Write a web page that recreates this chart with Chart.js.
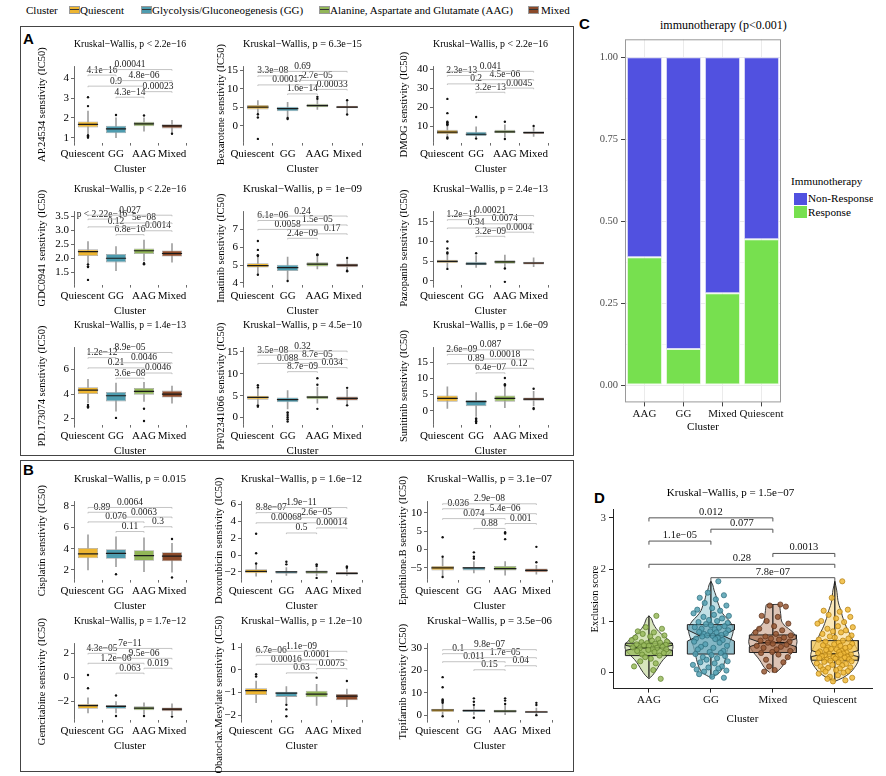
<!DOCTYPE html>
<html>
<head>
<meta charset="utf-8">
<script src="https://cdn.jsdelivr.net/npm/chart.js@4.4.0/dist/chart.umd.min.js"></script>
<style>
  body { margin: 0; width: 886px; height: 776px; overflow: hidden; background: #fff; position: relative;
         font-family: 'Liberation Serif', 'Times New Roman', serif; color: #000; }
  canvas { position: absolute; }
  .frame { position: absolute; border: 1px solid #444; }
  .letter { position: absolute; font-family: 'Liberation Sans', Arial, sans-serif; font-weight: bold; font-size: 15px; line-height: 15px; }
  .txt { position: absolute; white-space: nowrap; font-size: 11px; line-height: 12px; }
  .key { position: absolute; width: 9px; height: 6px; border: 1px solid #999; }
  .key::after { content: ''; position: absolute; left: 0; right: 0; top: 2px; height: 1px; background: #333; }
  .sq { position: absolute; width: 13px; height: 12px; }
  #cLegend { position: absolute; left: 780px; top: 170px; width: 93px; height: 60px; overflow: hidden; }
</style>
</head>
<body>

<!-- cluster legend on top -->
<div class="txt" style="left:26px;top:4px">Cluster</div>
<div class="key" style="left:69px;top:6px;background:#EDB531"></div>
<div class="txt" style="left:80px;top:4px">Quiescent</div>
<div class="key" style="left:141px;top:6px;background:#4E9CAF"></div>
<div class="txt" style="left:152px;top:4px">Glycolysis/Gluconeogenesis (GG)</div>
<div class="key" style="left:319px;top:6px;background:#92B658"></div>
<div class="txt" style="left:330px;top:4px">Alanine, Aspartate and Glutamate (AAG)</div>
<div class="key" style="left:528px;top:6px;background:#8B4A2A"></div>
<div class="txt" style="left:541px;top:4px">Mixed</div>

<div class="frame" style="left:20px;top:26px;width:552px;height:428px"></div>
<div class="frame" style="left:20px;top:460px;width:552px;height:310px"></div>
<div class="letter" style="left:23px;top:31px">A</div>
<div class="letter" style="left:23px;top:462px">B</div>
<div class="letter" style="left:579px;top:16px">C</div>
<div class="letter" style="left:594px;top:490px">D</div>

<!-- panel C title and legend -->
<div class="txt" style="left:660px;top:18px;font-size:12px;line-height:14px">immunotherapy (p&lt;0.001)</div>
<div id="cLegend">
  <div class="txt" style="left:11px;top:4px;font-size:11.2px;line-height:14px">Immunotherapy</div>
  <div class="sq" style="left:14px;top:23px;background:#5151E0"></div>
  <div class="txt" style="left:28px;top:21px;font-size:11.2px;line-height:14px">Non-Response</div>
  <div class="sq" style="left:14px;top:36px;background:#77E04F"></div>
  <div class="txt" style="left:28px;top:35px;font-size:11.2px;line-height:14px">Response</div>
</div>

<script>
// ---------------- data ----------------
var clusters = ['Quiescent', 'GG', 'AAG', 'Mixed'];
// tick text; the long first label is nudged left as in the original
var clusterTickText = ['Quiescent    ', 'GG', 'AAG', 'Mixed'];
var clusterFill = ['#EDB531', '#4E9CAF', '#92B658', '#8B4A2A'];
// pairwise comparisons, from the lowest bracket to the highest
var pairs = [[1, 2], [2, 3], [0, 2], [1, 3], [0, 1], [0, 3]];

// box stats per cluster: [low whisker, q1, median, q3, high whisker]
var ap24534Box = [[1.2, 1.52, 1.67, 1.82, 2.35], [1.0, 1.22, 1.45, 1.6, 2.0], [1.33, 1.58, 1.7, 1.8, 2.0], [1.22, 1.47, 1.6, 1.68, 1.88]];
var ap24534Out = [[3.05, 2.6, 1.12, 1.06, 1.0], [2.15], [2.12], [1.2]];
var ap24534P = ['4.3e−14', '0.00023', '0.9', '4.8e−06', '4.1e−16', '0.00041'];
var ap24534Ticks = [1, 2, 3, 4];

var bexaroteneBox = [[2.8, 4.4, 5.0, 5.6, 6.8], [2.3, 3.9, 4.6, 5.1, 6.3], [4.4, 5.0, 5.4, 5.9, 7.0], [3.3, 4.7, 5.0, 5.4, 6.6]];
var bexaroteneOut = [[2.2, 3.1, -3.6], [1.8, 2.1], [7.3, 7.8], [6.9, 3.0]];
var bexaroteneP = ['1.6e−14', '0.00033', '0.00017', '2.7e−05', '3.3e−08', '0.69'];
var bexaroteneTicks = [0, 5, 10, 15];

var dmogBox = [[4.6, 6.0, 7.0, 8.2, 11.5], [4.0, 5.0, 5.9, 7.2, 9.8], [4.4, 6.4, 7.2, 8.2, 10.8], [4.8, 6.0, 6.7, 7.5, 9.5]];
var dmogOut = [[24.5, 17, 12.5, 12, 11.9, 11.2, 10.8, 3.6, 4.2], [15, 3.6], [12.5, 3.4], [10.3]];
var dmogP = ['3.2e−13', '0.0045', '0.2', '4.5e−06', '2.3e−13', '0.041'];
var dmogTicks = [10, 20, 30, 40];

var gdc0941Box = [[1.82, 2.08, 2.24, 2.32, 2.6], [1.55, 1.85, 2.0, 2.15, 2.42], [1.9, 2.15, 2.27, 2.35, 2.65], [1.86, 2.06, 2.17, 2.28, 2.53]];
var gdc0941Out = [[1.78, 1.7, 1.68, 1.22], [], [1.82, 1.78], []];
var gdc0941P = ['6.8e−16', '0.0014', '0.12', '5e−08', 'p < 2.22e−16', '0.027'];
var gdc0941Ticks = [1.5, 2.0, 2.5, 3.0, 3.5];

var imatinibBox = [[4.5, 4.86, 4.97, 5.1, 5.5], [4.15, 4.66, 4.85, 5.02, 5.45], [4.78, 4.92, 5.05, 5.15, 5.45], [4.72, 4.88, 4.99, 5.08, 5.35]];
var imatinibOut = [[6.35, 5.85, 5.55, 5.5, 4.45], [4.1], [5.55, 5.6], [5.4, 4.65, 4.68]];
var imatinibP = ['2.4e−09', '0.17', '0.0058', '1.5e−05', '6.1e−06', '0.24'];
var imatinibTicks = [4, 5, 6, 7];

var pazopanibBox = [[3.3, 4.5, 4.9, 5.3, 6.6], [3.4, 3.9, 4.3, 4.8, 6.4], [3.3, 4.3, 4.8, 5.2, 6.5], [3.6, 4.1, 4.5, 4.8, 5.8]];
var pazopanibOut = [[10, 8.2, 7.2, 6.9, 3.0], [7.0], [3.1, -0.3], []];
var pazopanibP = ['3.2e−09', '0.0004', '0.94', '0.0074', '1.2e−11', '0.00021'];
var pazopanibTicks = [0, 5, 10, 15];

var pd173074Box = [[3.3, 4.0, 4.33, 4.56, 5.2], [2.6, 3.4, 3.86, 4.17, 4.9], [3.4, 3.95, 4.22, 4.5, 4.95], [3.25, 3.72, 4.0, 4.28, 4.65]];
var pd173074Out = [[2.9, 3.0, 3.1], [2.05], [2.8, 1.8], []];
var pd173074P = ['3.6e−08', '0.0046', '0.21', '0.0046', '1.2e−12', '8.9e−05'];
var pd173074Ticks = [2, 4, 6];

var pf02341066Box = [[3.1, 4.1, 4.6, 5.0, 6.6], [2.0, 3.5, 4.1, 4.6, 6.2], [3.3, 4.2, 4.7, 5.0, 7.0], [2.9, 3.9, 4.4, 4.8, 6.4]];
var pf02341066Out = [[7.4, 6.9, 2.8, 2.5], [1.2, 0.8, 0.4, 0, -0.4, -0.9], [9.0, 7.5, 2.0], [6.8, 2.8]];
var pf02341066P = ['8.7e−09', '0.034', '0.088', '8.7e−05', '3.5e−08', '0.32'];
var pf02341066Ticks = [0, 5, 10, 15];

var sunitinibBox = [[0.7, 2.8, 3.8, 4.7, 7.4], [-1.8, 1.4, 2.8, 3.3, 5.6], [0.9, 2.8, 3.8, 4.7, 7.4], [1.5, 3.1, 3.6, 4.1, 6.0]];
var sunitinibOut = [[], [-2.4, -2.9, -3.3, -3.8], [10.1, 8.2, 7.8], [6.8, 0.5, 0.8]];
var sunitinibP = ['6.4e−07', '0.12', '0.89', '0.00018', '2.6e−09', '0.087'];
var sunitinibTicks = [0, 5, 10, 15];

var cisplatinBox = [[2.0, 3.1, 3.5, 4.06, 5.3], [2.3, 3.04, 3.55, 3.94, 5.1], [1.85, 2.87, 3.35, 3.84, 5.0], [1.8, 2.82, 3.3, 3.67, 4.5]];
var cisplatinOut = [[], [1.6], [], [4.9, 1.3]];
var cisplatinP = ['0.11', '0.3', '0.076', '0.0063', '0.89', '0.0064'];
var cisplatinTicks = [2, 4, 6, 8];

var doxorubicinBox = [[-2.5, -2.16, -1.92, -1.68, -1.05], [-2.4, -2.2, -2.0, -1.88, -1.47], [-2.45, -2.2, -2.0, -1.84, -1.5], [-2.4, -2.32, -2.16, -2.0, -1.68]];
var doxorubicinOut = [[2.5, 0.2, -1.0], [-0.8, -1.1], [-1.1, -1.3, -2.7], [-1.35, -1.5]];
var doxorubicinP = ['0.5', '0.00014', '0.00068', '2.6e−05', '8.8e−07', '1.9e−11'];
var doxorubicinTicks = [-2, 0, 2, 4, 6];

var epothiloneBox = [[-7.1, -5.7, -5.0, -4.5, -2.4], [-6.4, -5.7, -5.0, -4.8, -3.3], [-7.0, -5.7, -5.2, -4.5, -3.3], [-6.7, -6.2, -5.7, -5.2, -4.3]];
var epothiloneOut = [[3.3, -2.0, -7.5], [-0.8, -2.0, -2.5], [4.7, 4.3, 2.8], [0.7, -3.5]];
var epothiloneP = ['0.88', '0.001', '0.074', '5.4e−06', '0.036', '2.9e−08'];
var epothiloneTicks = [-5, 0, 5, 10];

var gemcitabineBox = [[-2.95, -2.6, -2.35, -2.2, -1.7], [-2.95, -2.6, -2.4, -2.3, -2.0], [-3.05, -2.73, -2.55, -2.4, -2.1], [-3.1, -2.8, -2.63, -2.5, -2.2]];
var gemcitabineOut = [[0.2, -0.9], [-1.5, -3.2], [-3.2], [-3.25]];
var gemcitabineP = ['0.063', '0.019', '1.2e−06', '9.5e−06', '4.3e−05', '7e−11'];
var gemcitabineTicks = [-2, 0, 2];

var obatoclaxBox = [[-1.45, -1.12, -0.92, -0.82, -0.5], [-1.5, -1.2, -1.03, -0.97, -0.75], [-1.58, -1.22, -1.08, -0.93, -0.65], [-1.63, -1.35, -1.17, -1.07, -0.85]];
var obatoclaxOut = [[-0.2, -0.3], [-1.55, -1.75, -2.05], [-0.35], [-0.5]];
var obatoclaxP = ['0.63', '0.0075', '0.00016', '0.0001', '6.7e−06', '1.1e−09'];
var obatoclaxTicks = [-2, -1, 0, 1];

var tipifarnibBox = [[0.0, 1.4, 2.3, 2.9, 5.0], [0.3, 1.4, 2.0, 2.6, 4.3], [0.0, 1.1, 1.8, 2.4, 4.3], [0.3, 1.0, 1.4, 2.0, 3.2]];
var tipifarnibOut = [[17, 12.5, 7.0, 6.5, 6.0, 5.5, -0.5], [7.5, 6.0, 4.6, -1.2], [7.5, 6.5, 5.0], [5.5, 4.5, 0.0]];
var tipifarnibP = ['0.15', '0.04', '0.011', '1.7e−05', '0.1', '9.8e−07'];
var tipifarnibTicks = [0, 10, 20, 30];

// panel C
var cClusters = ['AAG', 'GG', 'Mixed', 'Quiescent'];
var responseShare = [0.39, 0.11, 0.28, 0.445];
var nonResponseShare = [0.61, 0.89, 0.72, 0.555];
var cTicks = [0, 0.25, 0.5, 0.75, 1];

// panel D
var dClusters = ['AAG', 'GG', 'Mixed', 'Quiescent'];
var dQ1 = [0.33, 0.36, 0.39, 0.24];
var dMedian = [0.48, 0.72, 0.58, 0.36];
var dQ3 = [0.57, 0.93, 0.73, 0.62];
var dNotchLow = [0.43, 0.61, 0.5, 0.31];
var dNotchHigh = [0.53, 0.83, 0.66, 0.43];
var dWhiskerLow = [-0.1, -0.1, 0.0, -0.15];
var dWhiskerHigh = [1.1, 1.77, 1.32, 1.77];
var violinY = [
  [-0.12, -0.05, 0.05, 0.15, 0.25, 0.35, 0.45, 0.55, 0.65, 0.75, 0.85, 0.95, 1.05, 1.1],
  [-0.1, 0.0, 0.1, 0.2, 0.3, 0.4, 0.5, 0.6, 0.7, 0.8, 0.9, 1.0, 1.1, 1.2, 1.3, 1.4, 1.5, 1.6, 1.7, 1.77],
  [0.0, 0.1, 0.2, 0.3, 0.4, 0.5, 0.6, 0.7, 0.8, 0.9, 1.0, 1.1, 1.2, 1.3, 1.32, 1.32],
  [-0.17, -0.1, 0.0, 0.1, 0.2, 0.3, 0.4, 0.5, 0.6, 0.7, 0.8, 0.9, 1.0, 1.1, 1.2, 1.3, 1.4, 1.5, 1.6, 1.77]
];
var violinHalfWidth = [
  [0, 0.06, 0.12, 0.17, 0.23, 0.31, 0.38, 0.38, 0.3, 0.2, 0.12, 0.07, 0.04, 0],
  [0, 0.14, 0.19, 0.22, 0.24, 0.26, 0.28, 0.31, 0.34, 0.36, 0.35, 0.3, 0.22, 0.16, 0.13, 0.1, 0.08, 0.05, 0.03, 0],
  [0.05, 0.14, 0.19, 0.25, 0.32, 0.37, 0.39, 0.37, 0.31, 0.2, 0.14, 0.13, 0.12, 0.11, 0.1, 0],
  [0, 0.13, 0.25, 0.32, 0.37, 0.39, 0.38, 0.34, 0.3, 0.26, 0.22, 0.18, 0.15, 0.12, 0.1, 0.07, 0.05, 0.04, 0.03, 0]
];
var scoreAAG = [1.1, 0.88, 0.85, 0.8, 0.78, 0.75, 0.72, 0.7, 0.68, 0.65, 0.63, 0.62, 0.6, 0.59, 0.58, 0.57, 0.56, 0.55, 0.54, 0.53,
  0.52, 0.5, 0.49, 0.48, 0.47, 0.46, 0.45, 0.44, 0.42, 0.4, 0.38, 0.35, 0.33, 0.3, 0.27, 0.22, 0.18, 0.12, 0.05, -0.12];
var scoreGG = [1.77, 1.55, 1.5, 1.45, 1.42, 1.35, 1.3, 1.25, 1.22, 1.2, 1.15, 1.12, 1.1, 1.08, 1.05, 1.02, 1.0, 0.98, 0.96, 0.94,
  0.92, 0.9, 0.88, 0.87, 0.85, 0.84, 0.82, 0.8, 0.79, 0.78, 0.76, 0.75, 0.73, 0.72, 0.71, 0.7, 0.68, 0.66, 0.65, 0.63,
  0.6, 0.58, 0.55, 0.52, 0.5, 0.48, 0.45, 0.42, 0.4, 0.38, 0.36, 0.34, 0.32, 0.3, 0.28, 0.25, 0.22, 0.2, 0.18, 0.15,
  0.12, 0.1, 0.08, 0.06, 0.04, 0.02, 0.0, -0.03, -0.08, -0.1];
var scoreMixed = [1.32, 1.3, 1.28, 1.1, 1.08, 1.0, 0.95, 0.9, 0.85, 0.82, 0.78, 0.75, 0.72, 0.7, 0.68, 0.66, 0.64, 0.62, 0.6, 0.58,
  0.56, 0.54, 0.52, 0.5, 0.48, 0.45, 0.42, 0.4, 0.38, 0.35, 0.3, 0.25, 0.2, 0.12, 0.05, 0.02];
var scoreQuiescent = [1.77, 1.45, 1.22, 1.2, 1.18, 1.12, 1.08, 1.05, 1.0, 0.98, 0.95, 0.9, 0.88, 0.85, 0.82, 0.8, 0.78, 0.75, 0.72, 0.7,
  0.68, 0.66, 0.64, 0.62, 0.6, 0.58, 0.56, 0.55, 0.53, 0.52, 0.5, 0.49, 0.48, 0.46, 0.45, 0.44, 0.42, 0.41, 0.4, 0.39,
  0.38, 0.37, 0.36, 0.35, 0.34, 0.33, 0.32, 0.31, 0.3, 0.29, 0.28, 0.27, 0.26, 0.25, 0.24, 0.23, 0.22, 0.21, 0.2, 0.18,
  0.17, 0.15, 0.14, 0.12, 0.1, 0.09, 0.08, 0.06, 0.05, 0.03, 0.02, 0.0, -0.02, -0.05, -0.08, -0.1, -0.12, -0.15, -0.17, 0.35];
// horizontal jitter of the points, in category units
var jitterDx = [0.12, -0.05, 0.21, -0.18, 0.08, -0.1, 0.25, 0.02, -0.22, 0.15,
  -0.28, 0.05, 0.29, -0.12, 0.18, -0.03, 0.1, -0.2, 0.27, -0.08,
  0.0, 0.22, -0.26, 0.13, -0.15, 0.06, 0.28, -0.01, -0.19, 0.09,
  0.24, -0.11, 0.17, -0.06, 0.03, -0.14, 0.11, -0.24, 0.07, 0.19,
  -0.27, 0.14, -0.09, 0.26, -0.16, 0.04, -0.21, 0.2, -0.02, 0.16,
  -0.25, 0.01, 0.23, -0.13, 0.1, -0.07, 0.27, -0.17, 0.06, -0.29,
  0.18, -0.04, 0.12, -0.23, 0.25, -0.11, 0.08, -0.19, 0.02, 0.21,
  -0.15, 0.14, -0.26, 0.05, -0.08, 0.28, -0.12, 0.17, -0.03, 0.09];
var dBracketPairs = [[1, 3], [2, 3], [1, 2], [3, 4], [1, 4], [2, 4]];
var dBracketY = [3.0, 2.78, 2.55, 2.31, 2.1, 1.84];
var dBracketP = ['0.012', '0.077', '1.1e−05', '0.0013', '0.28', '7.8e−07'];

// ---------------- charts ----------------
var SERIF = "'Liberation Serif', 'Times New Roman', serif";
Chart.defaults.font.family = SERIF;
Chart.defaults.color = '#000';
Chart.defaults.animation = false;
Chart.defaults.events = [];
Chart.defaults.plugins.legend.display = false;
Chart.defaults.plugins.tooltip.enabled = false;

// significance brackets, placed through the chart scales
Chart.register({
  id: 'brackets',
  afterDatasetsDraw: function(chart, args, opts) {
    if (!opts.items || !opts.items.length) return;
    var ctx = chart.ctx, xs = chart.scales.x, ys = chart.scales.y;
    ctx.save();
    ctx.strokeStyle = opts.lineColor;
    ctx.lineWidth = opts.lineWidth;
    ctx.fillStyle = opts.textColor;
    ctx.font = opts.fontSize + 'px ' + SERIF;
    ctx.textAlign = 'center';
    ctx.textBaseline = 'bottom';
    for (var i = 0; i < opts.items.length; i++) {
      var b = opts.items[i];
      var x1 = xs.getPixelForValue(b.x1), x2 = xs.getPixelForValue(b.x2);
      var y = ys.getPixelForValue(b.y), yt = ys.getPixelForValue(b.y - b.tip);
      ctx.beginPath();
      ctx.moveTo(x1, yt); ctx.lineTo(x1, y); ctx.lineTo(x2, y); ctx.lineTo(x2, yt);
      ctx.stroke();
      ctx.fillText(b.label, (x1 + x2) / 2, y - opts.gap);
    }
    ctx.restore();
  }
});

function makeCanvas(left, top, w, h) {
  var c = document.createElement('canvas');
  c.width = Math.round(w); c.height = Math.round(h);
  c.style.left = left + 'px'; c.style.top = Math.round(top) + 'px';
  c.style.width = Math.round(w) + 'px'; c.style.height = Math.round(h) + 'px';
  document.body.appendChild(c);
  return c;
}

function fmtTick(v, dec) {
  return v.toFixed(dec).replace('-', '−');
}

var PAD = 35;
function boxPanel(spec, col, row) {
  var chartTop = row.ty + 22;
  var top = row.ty - 6.6 - PAD;
  var h = PAD + 28.6 + (row.pb - chartTop) + 31.4 + PAD;
  var w = col.right - col.left + 4;
  var canvas = makeCanvas(col.left, top, w, h);
  var range = spec.max - spec.min;
  var eps = range * 0.008;

  var outliers = [];
  spec.out.forEach(function(list, i) {
    list.forEach(function(v) { outliers.push({ x: clusters[i], y: v }); });
  });
  var brackets = pairs.map(function(p, k) {
    return { x1: p[0], x2: p[1], y: spec.brStart + k * spec.brStep, tip: range * 0.015, label: spec.p[k] };
  });

  new Chart(canvas, {
    type: 'bar',
    data: {
      labels: clusters,
      datasets: [
        { data: spec.box.map(function(s) { return [s[2] - eps, s[2] + eps]; }), backgroundColor: '#1a1a1a',
          barPercentage: 0.72, categoryPercentage: 1, grouped: false, order: 0 },
        { type: 'line', data: outliers, showLine: false, pointRadius: 1.2, pointBackgroundColor: '#111',
          pointBorderWidth: 0, order: 1 },
        { data: spec.box.map(function(s) { return [s[1], s[3]]; }), backgroundColor: clusterFill,
          borderColor: '#A8A8A8', borderWidth: 0.8, borderSkipped: false,
          barPercentage: 0.72, categoryPercentage: 1, grouped: false, order: 2 },
        { data: spec.box.map(function(s) { return [s[0], s[4]]; }), backgroundColor: '#A0A0A0',
          barThickness: 1, grouped: false, order: 3 }
      ]
    },
    options: {
      responsive: false,
      devicePixelRatio: 1,
      layout: { padding: { top: PAD, bottom: PAD, left: 0, right: 4 } },
      plugins: {
        title: { display: true, text: spec.kw, fullSize: false, font: { size: 11, weight: 'normal' },
                 color: '#000', padding: { top: 0, bottom: 15.4 } },
        brackets: { items: brackets, lineColor: '#B5B5B5', lineWidth: 0.8, textColor: '#222', fontSize: 9.5, gap: 0.3 }
      },
      scales: {
        x: {
          grid: { drawOnChartArea: false, drawTicks: true, tickLength: 3, color: '#444', lineWidth: 0.8 },
          border: { display: false },
          ticks: { autoSkip: false, maxRotation: 0, padding: 2, color: '#000', font: { size: 11 },
                   callback: function(v, i) { return clusterTickText[i]; } },
          title: { display: true, text: 'Cluster', font: { size: 11 }, color: '#000', padding: { top: 0, bottom: 0 } }
        },
        y: {
          min: spec.min, max: spec.max,
          afterBuildTicks: function(scale) { scale.ticks = spec.ticks.map(function(v) { return { value: v }; }); },
          afterFit: function(scale) { scale.width = col.axis - col.left; },
          grid: { drawOnChartArea: false, drawTicks: true, tickLength: 3, color: '#444', lineWidth: 0.8 },
          border: { display: true, color: '#444', width: 0.8 },
          ticks: { padding: 2, color: '#000', font: { size: 11 },
                   callback: function(v) { return fmtTick(v, spec.dec); } },
          title: { display: true, text: spec.ylab, font: { size: 10.5 }, color: '#000', padding: { top: 0, bottom: 2 } }
        }
      }
    }
  });
}

var colsA = [{ left: 36, axis: 74, right: 186 }, { left: 215, axis: 243, right: 362 }, { left: 398, axis: 433, right: 548 }];
var colsB = [{ left: 36, axis: 74, right: 186 }, { left: 213, axis: 241, right: 362 }, { left: 397, axis: 427, right: 552 }];
var rowsA = [{ ty: 45, pb: 145 }, { ty: 190, pb: 287 }, { ty: 326, pb: 427 }];
var rowsB = [{ ty: 480, pb: 582 }, { ty: 622, pb: 722 }];

var panelA = [
  { ylab: 'AP.24534 senstivity (IC50)', kw: 'Kruskal−Wallis, p < 2.2e−16', box: ap24534Box, out: ap24534Out, p: ap24534P, ticks: ap24534Ticks, min: 0.75, max: 4.6, brStart: 3.05, brStep: 0.28, dec: 0 },
  { ylab: 'Bexarotene senstivity (IC50)', kw: 'Kruskal−Wallis, p = 6.3e−15', box: bexaroteneBox, out: bexaroteneOut, p: bexaroteneP, ticks: bexaroteneTicks, min: -4.6, max: 16, brStart: 8.6, brStep: 1.22, dec: 0 },
  { ylab: 'DMOG senstivity (IC50)', kw: 'Kruskal−Wallis, p < 2.2e−16', box: dmogBox, out: dmogOut, p: dmogP, ticks: dmogTicks, min: 1.5, max: 41.5, brStart: 28, brStep: 2.2, dec: 0 },
  { ylab: 'GDC0941 senstivity (IC50)', kw: 'Kruskal−Wallis, p < 2.2e−16', box: gdc0941Box, out: gdc0941Out, p: gdc0941P, ticks: gdc0941Ticks, min: 1.05, max: 3.68, brStart: 2.85, brStep: 0.14, dec: 1 },
  { ylab: 'Imatinib senstivity (IC50)', kw: 'Kruskal−Wallis, p = 1e−09', box: imatinibBox, out: imatinibOut, p: imatinibP, ticks: imatinibTicks, min: 3.9, max: 8.0, brStart: 6.5, brStep: 0.25, dec: 0 },
  { ylab: 'Pazopanib senstivity (IC50)', kw: 'Kruskal−Wallis, p = 2.4e−13', box: pazopanibBox, out: pazopanibOut, p: pazopanibP, ticks: pazopanibTicks, min: -1, max: 17.6, brStart: 11.3, brStep: 1.06, dec: 0 },
  { ylab: 'PD.173074 senstivity (IC50)', kw: 'Kruskal−Wallis, p = 1.4e−13', box: pd173074Box, out: pd173074Out, p: pd173074P, ticks: pd173074Ticks, min: 1.5, max: 7.8, brStart: 5.3, brStep: 0.42, dec: 0 },
  { ylab: 'PF02341066 senstivity (IC50)', kw: 'Kruskal−Wallis, p = 4.5e−10', box: pf02341066Box, out: pf02341066Out, p: pf02341066P, ticks: pf02341066Ticks, min: -1.6, max: 16, brStart: 10.5, brStep: 0.94, dec: 0 },
  { ylab: 'Sunitinib senstivity (IC50)', kw: 'Kruskal−Wallis, p = 1.6e−09', box: sunitinibBox, out: sunitinibOut, p: sunitinibP, ticks: sunitinibTicks, min: -4.3, max: 19.5, brStart: 11.7, brStep: 1.42, dec: 0 }
];
var panelB = [
  { ylab: 'Cisplatin senstivity (IC50)', kw: 'Kruskal−Wallis, p = 0.015', box: cisplatinBox, out: cisplatinOut, p: cisplatinP, ticks: cisplatinTicks, min: 1.1, max: 8.4, brStart: 5.6, brStep: 0.45, dec: 0 },
  { ylab: 'Doxorubicin senstivity (IC50)', kw: 'Kruskal−Wallis, p = 1.6e−12', box: doxorubicinBox, out: doxorubicinOut, p: doxorubicinP, ticks: doxorubicinTicks, min: -2.9, max: 6.3, brStart: 2.6, brStep: 0.6, dec: 0 },
  { ylab: 'Epothilone.B senstivity (IC50)', kw: 'Kruskal−Wallis, p = 3.1e−07', box: epothiloneBox, out: epothiloneOut, p: epothiloneP, ticks: epothiloneTicks, min: -8.2, max: 13, brStart: 5.7, brStep: 1.34, dec: 0 },
  { ylab: 'Gemcitabine senstivity (IC50)', kw: 'Kruskal−Wallis, p = 1.7e−12', box: gemcitabineBox, out: gemcitabineOut, p: gemcitabineP, ticks: gemcitabineTicks, min: -3.5, max: 2.8, brStart: 0.35, brStep: 0.41, dec: 0 },
  // trailing spaces push this long rotated title down, as in the original
  { ylab: 'Obatoclax.Mesylate senstivity (IC50)          ', kw: 'Kruskal−Wallis, p = 1.2e−10', box: obatoclaxBox, out: obatoclaxOut, p: obatoclaxP, ticks: obatoclaxTicks, min: -2.2, max: 1.15, brStart: -0.14, brStep: 0.19, dec: 0 },
  { ylab: 'Tipifarnib senstivity (IC50)', kw: 'Kruskal−Wallis, p = 3.5e−06', box: tipifarnibBox, out: tipifarnibOut, p: tipifarnibP, ticks: tipifarnibTicks, min: -2, max: 32, brStart: 20.3, brStep: 1.8, dec: 0 }
];

panelA.forEach(function(s, i) { boxPanel(s, colsA[i % 3], rowsA[Math.floor(i / 3)]); });
panelB.forEach(function(s, i) { boxPanel(s, colsB[i % 3], rowsB[Math.floor(i / 3)]); });

// ---- panel C: stacked response shares ----
var cCanvas = makeCanvas(588, 30, 198, 408);
new Chart(cCanvas, {
  type: 'bar',
  data: {
    labels: cClusters,
    datasets: [
      { label: 'Response', data: responseShare, backgroundColor: '#77E04F', borderColor: '#E6F7DE', borderWidth: 1,
        borderSkipped: false, barPercentage: 0.9, categoryPercentage: 1 },
      { label: 'Non-Response', data: nonResponseShare, backgroundColor: '#5151E0', borderColor: '#D8D8F6', borderWidth: 1,
        borderSkipped: false, barPercentage: 0.9, categoryPercentage: 1 }
    ]
  },
  options: {
    responsive: false,
    devicePixelRatio: 1,
    layout: { padding: { top: 8, right: 5, bottom: 4, left: 0 } },
    scales: {
      x: {
        stacked: true,
        grid: { offset: false, color: '#EBEBEB', tickColor: '#444', tickLength: 4 },
        border: { display: false },
        ticks: { autoSkip: false, maxRotation: 0, minRotation: 0, padding: 1.4, color: '#111', font: { size: 11 } },
        title: { display: true, text: 'Cluster', font: { size: 11 }, color: '#000', padding: { top: -1.6, bottom: 0 } }
      },
      y: {
        stacked: true, min: -0.053, max: 1.055,
        afterBuildTicks: function(scale) {
          var t = [];
          cTicks.forEach(function(v, i) {
            t.push({ value: v });
            if (i < cTicks.length - 1) t.push({ value: (v + cTicks[i + 1]) / 2, minor: true });
          });
          scale.ticks = t;
        },
        afterFit: function(scale) { scale.width = 37; },
        grid: {
          color: function(c) { return c.tick && c.tick.minor ? '#F5F5F5' : '#EBEBEB'; },
          tickColor: function(c) { return c.tick && c.tick.minor ? 'rgba(0,0,0,0)' : '#444'; },
          tickLength: 4
        },
        border: { display: false },
        ticks: { padding: 3, color: '#4D4D4D', font: { size: 10.5 },
                 callback: function(v) { return cTicks.indexOf(v) >= 0 ? v.toFixed(2) : ''; } }
      }
    }
  },
  plugins: [{
    id: 'panelBorder',
    afterDraw: function(chart) {
      var a = chart.chartArea, ctx = chart.ctx;
      ctx.save();
      ctx.strokeStyle = '#9A9A9A';
      ctx.lineWidth = 1;
      ctx.strokeRect(a.left + 0.5, a.top + 0.5, a.right - a.left - 1, a.bottom - a.top - 1);
      ctx.restore();
    }
  }]
});

// ---- panel D: violins, notched boxes and points ----
var violinFill = ['#D7E5BC', '#C2E0E6', '#DDC4B5', '#FBE8B8'];
var boxFill = ['rgba(150,184,90,0.75)', 'rgba(110,170,186,0.75)', 'rgba(168,112,80,0.7)', 'rgba(242,196,84,0.75)'];
var pointFill = ['rgba(152,186,92,0.85)', 'rgba(84,160,178,0.85)', 'rgba(150,88,52,0.85)', 'rgba(240,186,58,0.85)'];
var pointEdge = ['#5F7F2C', '#2C6B7B', '#5A2F18', '#B07C10'];
var dScores = [scoreAAG, scoreGG, scoreMixed, scoreQuiescent];
var HW = 0.38;

var dDatasets = [];
dClusters.forEach(function(name, g) {
  var cx = g + 1;
  var right = violinY[g].map(function(y, i) { return { x: cx + violinHalfWidth[g][i], y: y }; });
  var left = violinY[g].map(function(y, i) { return { x: cx - violinHalfWidth[g][i], y: y }; }).reverse();
  dDatasets.push({ type: 'line', data: right.concat(left), fill: 'shape', backgroundColor: violinFill[g],
    borderColor: '#3a3a3a', borderWidth: 1, pointRadius: 0, tension: 0.3, order: 6 });
  dDatasets.push({ type: 'line', data: [{ x: cx, y: dWhiskerLow[g] }, { x: cx, y: dQ1[g] }, { x: cx, y: null },
      { x: cx, y: dQ3[g] }, { x: cx, y: dWhiskerHigh[g] }],
    borderColor: '#111', borderWidth: 1.2, pointRadius: 0, spanGaps: false, fill: false, order: 5 });
  dDatasets.push({ type: 'line', data: [
      { x: cx - HW, y: dQ1[g] }, { x: cx - HW, y: dNotchLow[g] }, { x: cx - HW / 2, y: dMedian[g] },
      { x: cx - HW, y: dNotchHigh[g] }, { x: cx - HW, y: dQ3[g] }, { x: cx + HW, y: dQ3[g] },
      { x: cx + HW, y: dNotchHigh[g] }, { x: cx + HW / 2, y: dMedian[g] }, { x: cx + HW, y: dNotchLow[g] },
      { x: cx + HW, y: dQ1[g] }, { x: cx - HW, y: dQ1[g] }],
    fill: 'shape', backgroundColor: boxFill[g], borderColor: '#222', borderWidth: 1, pointRadius: 0, tension: 0, order: 4 });
  dDatasets.push({ type: 'line', data: [{ x: cx - HW / 2, y: dMedian[g] }, { x: cx + HW / 2, y: dMedian[g] }],
    borderColor: '#111', borderWidth: 1.5, pointRadius: 0, fill: false, order: 3 });
  dDatasets.push({ type: 'scatter', data: dScores[g].map(function(y, i) { return { x: cx + jitterDx[i], y: y }; }),
    pointRadius: 2.6, pointBackgroundColor: pointFill[g], pointBorderColor: pointEdge[g], pointBorderWidth: 0.7, order: 1 });
});

var dCanvas = makeCanvas(589, 483, 289, 247);
new Chart(dCanvas, {
  type: 'scatter',
  data: { datasets: dDatasets },
  options: {
    responsive: false,
    devicePixelRatio: 1,
    layout: { padding: { top: 4, right: 6, bottom: 4, left: 0 } },
    plugins: {
      title: { display: true, text: 'Kruskal−Wallis, p = 1.5e−07', font: { size: 11, weight: 'normal' }, color: '#000',
               padding: { top: 0, bottom: 9.4 } },
      brackets: {
        items: dBracketPairs.map(function(p, k) { return { x1: p[0], x2: p[1], y: dBracketY[k], tip: 0.07, label: dBracketP[k] }; }),
        lineColor: '#555', lineWidth: 1, textColor: '#111', fontSize: 10.5, gap: 0.5
      }
    },
    scales: {
      x: {
        type: 'linear', min: 0.42, max: 4.6,
        afterBuildTicks: function(scale) { scale.ticks = [1, 2, 3, 4].map(function(v) { return { value: v }; }); },
        grid: { drawOnChartArea: false, drawTicks: true, tickLength: 4, color: '#222' },
        border: { display: true, color: '#222', width: 1 },
        ticks: { padding: 0.5, color: '#111', font: { size: 11 }, callback: function(v) { return dClusters[v - 1]; } },
        title: { display: true, text: 'Cluster', font: { size: 11 }, color: '#000', padding: { top: 6, bottom: 0 } }
      },
      y: {
        min: -0.31, max: 3.16,
        afterBuildTicks: function(scale) { scale.ticks = [0, 1, 2, 3].map(function(v) { return { value: v }; }); },
        afterFit: function(scale) { scale.width = 24; },
        grid: { drawOnChartArea: false, drawTicks: true, tickLength: 4, color: '#222' },
        border: { display: true, color: '#222', width: 1 },
        ticks: { padding: 3, color: '#333', font: { size: 11 } },
        title: { display: true, text: 'Exclusion score', font: { size: 10.5 }, color: '#000', padding: { top: 0, bottom: 0 } }
      }
    }
  }
});
</script>
</body>
</html>
